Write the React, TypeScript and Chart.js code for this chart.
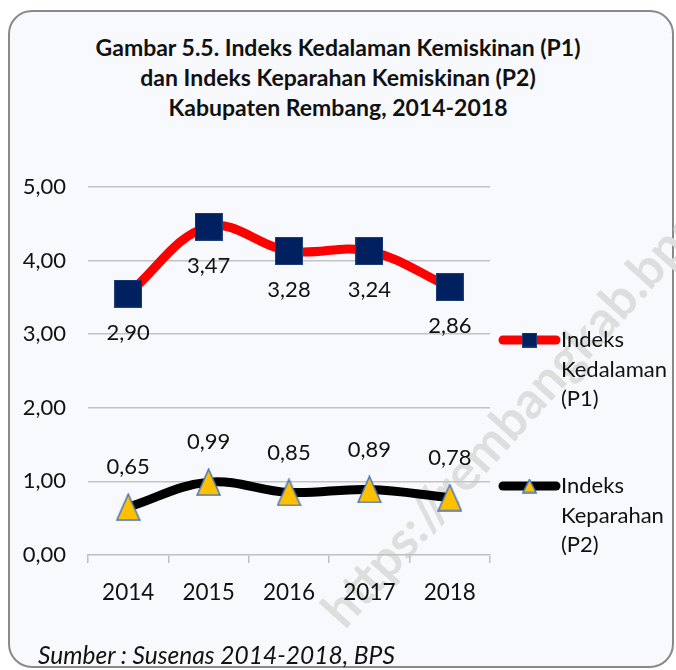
import React, { useEffect, useRef } from "react";
import { Chart, registerables } from "chart.js";

Chart.register(...registerables);

const categories = ["2014", "2015", "2016", "2017", "2018"];
const p1Values = [2.9, 3.47, 3.28, 3.24, 2.86];
const p2Values = [0.65, 0.99, 0.85, 0.89, 0.78];
const p1Label = ["Indeks", "Kedalaman", "(P1)"];
const p2Label = ["Indeks", "Keparahan", "(P2)"];
const titleLines = [
  "Gambar 5.5. Indeks Kedalaman Kemiskinan (P1)",
  "dan Indeks Keparahan Kemiskinan (P2)",
  "Kabupaten Rembang, 2014-2018",
];
const sourceText = "Sumber : Susenas 2014-2018, BPS";
const watermark = "https://rembangkab.bps.go.id";

const FONT = "Lato, 'Open Sans', sans-serif";
const fmt = (v: number) => v.toFixed(2).replace(".", ",");

function makeSquare(size: number) {
  const c = document.createElement("canvas");
  c.width = size;
  c.height = size;
  const ctx = c.getContext("2d")!;
  ctx.fillStyle = "#002060";
  ctx.fillRect(0, 0, size, size);
  ctx.strokeStyle = "#1f3f7a";
  ctx.lineWidth = 1;
  ctx.strokeRect(0.5, 0.5, size - 1, size - 1);
  return c;
}

function makeTriangle(w: number, h: number) {
  const c = document.createElement("canvas");
  c.width = w;
  c.height = h;
  const ctx = c.getContext("2d")!;
  ctx.beginPath();
  ctx.moveTo(w / 2, 1);
  ctx.lineTo(w - 1, h - 1);
  ctx.lineTo(1, h - 1);
  ctx.closePath();
  ctx.fillStyle = "#FFC000";
  ctx.fill();
  ctx.strokeStyle = "#4472C4";
  ctx.lineWidth = 1.5;
  ctx.stroke();
  return c;
}

export default function App() {
  const ref = useRef<HTMLCanvasElement | null>(null);

  useEffect(() => {
    if (!ref.current) return;
    const sq = makeSquare(28);
    const tri = makeTriangle(25, 28);
    const sqSmall = makeSquare(15);
    const triSmall = makeTriangle(15, 15);

    const labelsPlugin = {
      id: "valueLabels",
      afterDatasetsDraw(chart: any) {
        const ctx = chart.ctx;
        ctx.save();
        ctx.font = `22px ${FONT}`;
        ctx.fillStyle = "#111";
        ctx.textAlign = "center";
        ctx.textBaseline = "middle";
        chart.data.datasets.forEach((ds: any, di: number) => {
          const meta = chart.getDatasetMeta(di);
          meta.data.forEach((pt: any, i: number) => {
            const off = ds.labelBelow ? 39 : -40;
            ctx.fillText(fmt(ds.data[i]), pt.x, pt.y + off);
          });
        });
        ctx.restore();
      },
    };

    const legendPlugin = {
      id: "sideLegend",
      afterDraw(chart: any) {
        const ctx = chart.ctx;
        const items = [
          { color: "#FF0000", img: sqSmall, lines: p1Label, y: 340 },
          { color: "#000000", img: triSmall, lines: p2Label, y: 486 },
        ];
        ctx.save();
        items.forEach((it) => {
          ctx.strokeStyle = it.color;
          ctx.lineWidth = 9;
          ctx.lineCap = "round";
          ctx.beginPath();
          ctx.moveTo(503, it.y);
          ctx.lineTo(556, it.y);
          ctx.stroke();
          ctx.drawImage(it.img, 529.5 - it.img.width / 2, it.y - it.img.height / 2);
          ctx.font = `22px ${FONT}`;
          ctx.fillStyle = "#111";
          ctx.textAlign = "left";
          ctx.textBaseline = "middle";
          it.lines.forEach((t, k) => ctx.fillText(t, 561, it.y + k * 29.5));
        });
        ctx.restore();
      },
    };

    const chart = new Chart(ref.current, {
      type: "line",
      data: {
        labels: categories,
        datasets: [
          {
            label: "Indeks Keparahan (P2)",
            data: p2Values,
            borderColor: "#000000",
            borderWidth: 9,
            tension: 0.38,
            pointStyle: tri as any,
            pointRadius: 14,
            pointHoverRadius: 14,
            fill: false,
            labelBelow: false,
          } as any,
          {
            label: "Indeks Kedalaman (P1)",
            data: p1Values,
            borderColor: "#FF0000",
            borderWidth: 9,
            tension: 0.38,
            pointStyle: sq as any,
            pointRadius: 14,
            pointHoverRadius: 14,
            fill: false,
            labelBelow: true,
          } as any,
        ],
      },
      options: {
        responsive: false,
        animation: false,
        devicePixelRatio: 1,
        layout: { padding: { top: 187, right: 186, bottom: 55, left: 0 } },
        plugins: {
          legend: { display: false },
          title: { display: false },
          tooltip: { enabled: false },
        },
        scales: {
          x: {
            offset: true,
            grid: {
              display: true,
              drawOnChartArea: false,
              drawTicks: true,
              tickLength: 8,
              color: "#bfbfbf",
              lineWidth: 1.5,
              offset: true,
            },
            border: { display: true, color: "#bfbfbf", width: 1.5 },
            ticks: {
              font: { family: FONT, size: 22.5 },
              color: "#111",
              padding: 16,
              maxRotation: 0,
            },
            afterFit(scale: any) {
              scale.height = 60;
            },
          },
          y: {
            stacked: true,
            min: 0,
            max: 5,
            ticks: {
              stepSize: 1,
              font: { family: FONT, size: 22 },
              color: "#111",
              padding: 22,
              callback: (v: any) => fmt(Number(v)),
            },
            grid: {
              color: (c: any) => (c.tick && c.tick.value === 0 ? "rgba(0,0,0,0)" : "#c3c3c3"),
              lineWidth: 1.5,
              drawTicks: false,
            },
            border: { display: false },
            afterFit(scale: any) {
              scale.width = 88;
            },
          },
        },
      },
      plugins: [labelsPlugin, legendPlugin],
    });
    return () => chart.destroy();
  }, []);

  return (
    <div style={{ position: "fixed", left: 0, top: 0, width: 676, height: 670, background: "#ffffff", overflow: "hidden" }}>
      <div
        style={{
          position: "absolute",
          left: 8,
          top: 10,
          width: 666,
          height: 658,
          boxSizing: "border-box",
          border: "2px solid #8a8a8a",
          borderRadius: 24,
          background: "#f7f9fc",
        }}
      />
      <div
        style={{
          position: "absolute",
          left: 312,
          top: 645,
          transformOrigin: "0 0",
          transform: "rotate(-48deg)",
          font: `bold 51px ${FONT}`,
          color: "#dedede",
          whiteSpace: "nowrap",
          lineHeight: "50px",
          marginTop: -44,
        }}
      >
        {watermark}
      </div>
      <div
        style={{
          position: "absolute",
          left: 0,
          top: 32,
          width: 676,
          textAlign: "center",
          font: `bold 23px/30px ${FONT}`,
          color: "#111",
        }}
      >
        {titleLines.map((t, i) => (
          <div key={i}>{t}</div>
        ))}
      </div>
      <canvas ref={ref} width={676} height={670} style={{ position: "absolute", left: 0, top: 0, width: 676, height: 670 }} />
      <div
        style={{
          position: "absolute",
          left: 38,
          top: 640,
          font: `italic 24.5px/30px ${FONT}`,
          color: "#111",
          whiteSpace: "nowrap",
        }}
      >
        {sourceText}
      </div>
    </div>
  );
}
